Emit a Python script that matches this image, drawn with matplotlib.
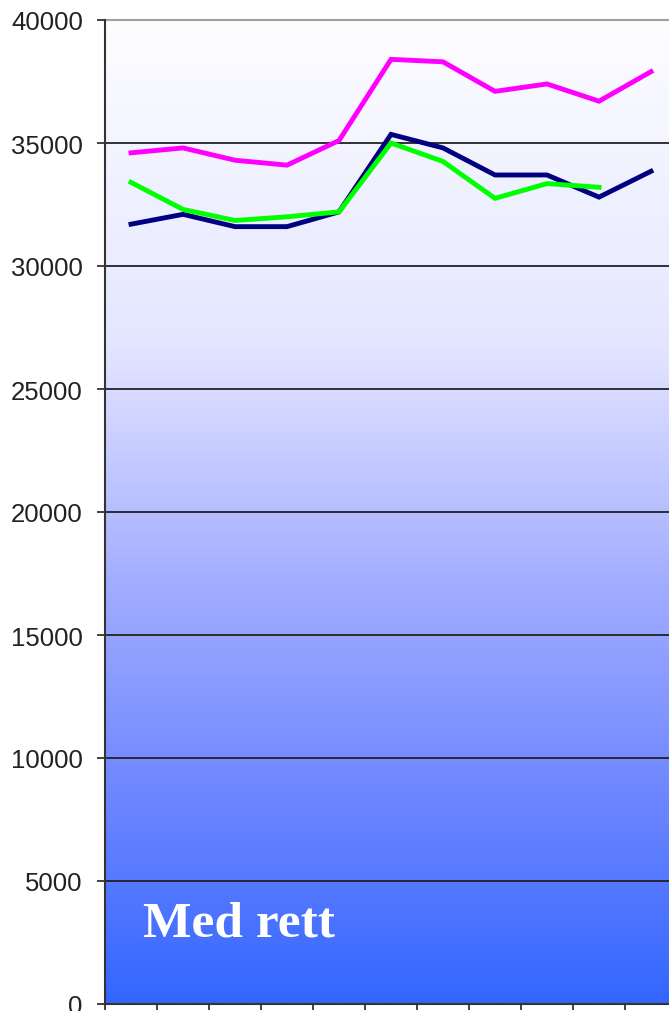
import numpy as np
import matplotlib
matplotlib.use("Agg")
import matplotlib.pyplot as plt
from matplotlib.colors import LinearSegmentedColormap

# Series values per category (11 periods)
categories = list(range(1, 12))
magenta_vals = [34600, 34800, 34300, 34100, 35100, 38400, 38300, 37100, 37400, 36700, 37900]
navy_vals = [31700, 32100, 31600, 31600, 32200, 35350, 34800, 33700, 33700, 32800, 33850]
green_vals = [33400, 32300, 31850, 32000, 32200, 35000, 34250, 32750, 33350, 33200]
y_ticks = [0, 5000, 10000, 15000, 20000, 25000, 30000, 35000, 40000]
label_text = "Med rett"

fig = plt.figure(figsize=(6.69, 10.12), dpi=100)
ax = fig.add_axes([105 / 669, 7 / 1012, 572 / 669, 984 / 1012])

n = len(categories)
x = np.arange(n)
ax.set_xlim(-0.5, n - 0.5)
ax.set_ylim(0, 40000)

# Vertical gradient background: near white at the top, strong blue at the bottom
grad_cmap = LinearSegmentedColormap.from_list(
    "bg",
    [
        (0.0, (51 / 255, 102 / 255, 255 / 255)),
        (0.213, (110 / 255, 135 / 255, 255 / 255)),
        (0.437, (165 / 255, 175 / 255, 255 / 255)),
        (0.67, (228 / 255, 230 / 255, 255 / 255)),
        (1.0, (253 / 255, 253 / 255, 255 / 255)),
    ],
)
grad = np.linspace(0, 1, 512).reshape(-1, 1)
ax.imshow(grad, aspect="auto", cmap=grad_cmap, origin="lower",
          extent=(-0.5, n - 0.5, 0, 40000), zorder=0, interpolation="bilinear")

# Horizontal gridlines
for v in y_ticks[1:-1]:
    ax.axhline(v, color="#222222", lw=1.3, zorder=1)
ax.axhline(40000, color="#a0a0a0", lw=1.5, zorder=1, clip_on=False)

# Data lines
ax.plot(x[:len(navy_vals)], navy_vals, color="#000080", lw=3.5, zorder=3,
        solid_joinstyle="miter")
ax.plot(x[:len(green_vals)], green_vals, color="#00FF00", lw=3.5, zorder=4,
        solid_joinstyle="miter")
ax.plot(x[:len(magenta_vals)], magenta_vals, color="#FF00FF", lw=3.5, zorder=5,
        solid_joinstyle="miter")

# Axes styling
for side in ("top", "right"):
    ax.spines[side].set_visible(False)
ax.spines["left"].set_color("#333333")
ax.spines["left"].set_linewidth(1.5)
ax.spines["bottom"].set_color("#333333")
ax.spines["bottom"].set_linewidth(1.5)

ax.set_yticks(y_ticks)
ax.set_yticklabels([str(v) for v in y_ticks], fontsize=18.5,
                   family=["Liberation Sans", "DejaVu Sans"], color="#222222")
ax.tick_params(axis="y", direction="out", length=6, width=1.3, color="#333333", pad=10)

ax.set_xticks(np.arange(n + 1) - 0.5)
ax.set_xticklabels([])
ax.tick_params(axis="x", direction="out", length=4.5, width=1.3, color="#333333")

# Panel label in the lower left of the plot
fig.text(143 / 669, 1 - 937 / 1012, label_text,
         fontsize=37, fontweight="bold", color="white",
         family=["Liberation Serif", "DejaVu Serif"], ha="left", va="baseline")

fig.savefig("out.png", dpi=100)
